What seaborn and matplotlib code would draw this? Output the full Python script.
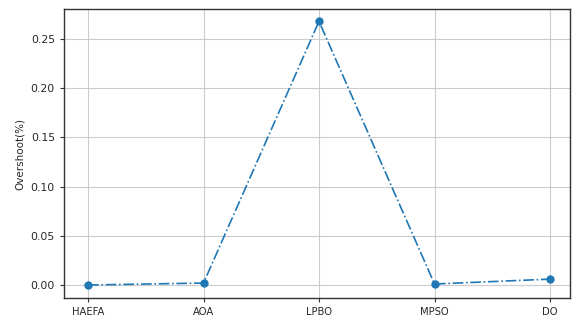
import matplotlib
matplotlib.use("Agg")
import matplotlib.pyplot as plt
import seaborn as sns
import pandas as pd

algorithms = ["HAEFA", "AOA", "LPBO", "MPSO", "DO"]
overshoot = [0.0, 0.002, 0.268, 0.001, 0.006]

df = pd.DataFrame({"Algorithm": algorithms, "Overshoot": overshoot})

sns.set_style("whitegrid")
plt.rcParams['font.family'] = ['DejaVu Sans']

fig = plt.figure(figsize=(5.72, 3.2), dpi=100)
ax = fig.add_axes([0.1119, 0.06875, 0.8846, 0.903])
sns.lineplot(data=df, x="Algorithm", y="Overshoot", sort=False, marker="o",
             linestyle="-.", color="#1f77b4", markersize=6, markeredgewidth=0,
             linewidth=1.2, ax=ax)
ax.set_xlabel("")
ax.set_ylabel("Overshoot(%)", fontsize=7.5)
ax.tick_params(axis="x", labelsize=7.2, length=3, color="#333333", bottom=True)
ax.tick_params(axis="y", labelsize=7.8, length=3, color="#333333", left=True)
ax.grid(True, color="#cccccc", linewidth=0.8)
for s in ax.spines.values():
    s.set_color("#333333")
    s.set_linewidth(1.0)
ax.set_xlim(-0.208, 4.173)
ax.set_ylim(-0.0132, 0.2805)
fig.savefig("out.png", dpi=100)
